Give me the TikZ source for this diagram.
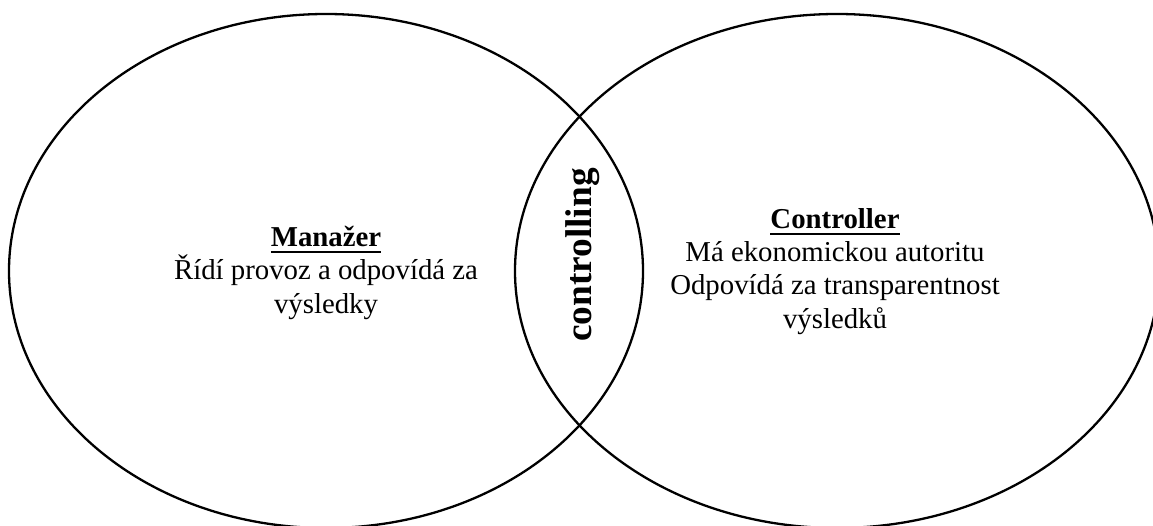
\documentclass[tikz,border=0pt]{standalone}
\usepackage{fontspec}
\setmainfont{Liberation Serif}
% underlined heading: a rule of the word's width just below the baseline
\newcommand{\headul}[1]{\setbox0\hbox{#1}\rlap{\rule[-6pt]{\wd0}{2.4pt}}\box0}
\begin{document}
\begin{tikzpicture}[x=1pt,y=1pt,
  circ/.style={draw=black,line width=2.3pt},
  body/.style={anchor=base,inner sep=0pt,font=\fontsize{28.8}{33}\selectfont},
  head/.style={body,font=\fontsize{28.8}{33}\selectfont\bfseries},
  lens/.style={anchor=base,inner sep=0pt,rotate=90,font=\fontsize{37.3}{42}\selectfont\bfseries}]
  \useasboundingbox (0,0) rectangle (1153,-526);
  \clip (0,0) rectangle (1153,-526);
  % the two overlapping areas of responsibility
  \draw[circ] (326,-271) ellipse [x radius=317, y radius=257];
  \draw[circ] (837,-271) ellipse [x radius=322, y radius=257];
  % left: the manager
  \node[head] (mgrhead) at (326,-247) {\headul{Manažer}};
  \node[body] (mgrl1) at (326,-280) {Řídí provoz a odpovídá za};
  \node[body] (mgrl2) at (326,-313) {výsledky};
  % right: the controller
  \node[head] (ctlhead) at (835,-229) {\headul{Controller}};
  \node[body] (ctll1) at (835,-262) {Má ekonomickou autoritu};
  \node[body] (ctll2) at (835,-295) {Odpovídá za transparentnost};
  \node[body] (ctll3) at (835,-328) {výsledků};
  % the overlap
  \node[lens] (overlap) at (591,-255) {controlling};
\end{tikzpicture}
\end{document}
